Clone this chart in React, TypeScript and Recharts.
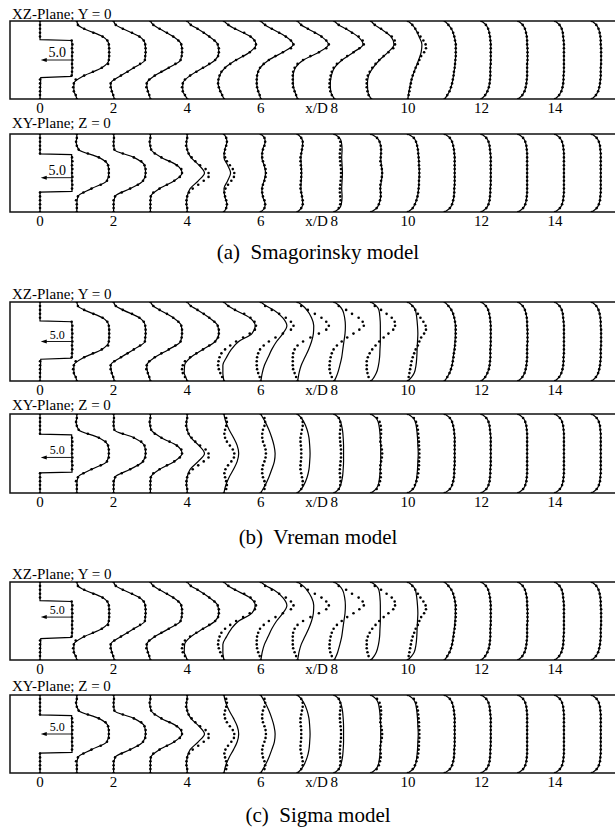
import React from "react";
import { ScatterChart, Scatter, XAxis, YAxis, ReferenceArea, ReferenceLine } from "recharts";

const SERIF = '"Liberation Serif", "Times New Roman", serif';

// x/D tick labels under each frame
const X_TICKS = [0, 2, 4, 6, 8, 10, 12, 14];
const X_DOMAIN: [number, number] = [-0.816, 15.9];

// lateral positions (frame spans -1..1) where profiles are sampled
const R_DOTS = [1, 0.9, 0.8, 0.7, 0.6, 0.5, 0.4, 0.3, 0.2, 0.1, 0, -0.1, -0.2, -0.3, -0.4, -0.5, -0.6, -0.7, -0.8, -0.9, -1];
const R_LINES = [1, 0.9, 0.8, 0.6, 0.4, 0.2, 0, -0.2, -0.4, -0.6, -0.8, -0.9, -1];

// jet exit (x/D = 0) computed profiles, top-hat
const EXIT_XZ_R = [1, 0.52, 0.5, 0.4, -0.38, -0.42, -0.45, -1];
const EXIT_XZ_U = [0, 0, 0.86, 0.87, 0.87, 0.85, 0.02, 0];
const EXIT_XY_R = [1, 0.49, 0.47, -0.47, -0.49, -1];
const EXIT_XY_U = [0, 0, 0.86, 0.87, 0, 0];

// experiment, XZ plane, stations 0..15 (offset from station, in x/D units)
const EXP_XZ = [
  [0, 0, 0, 0, 0, 0.86, 0.88, 0.87, 0.88, 0.87, 0.88, 0.87, 0.88, 0.87, 0.86, 0, 0, 0, 0, 0, 0],
  [0, 0.03, 0.2, 0.45, 0.7, 0.83, 0.87, 0.88, 0.88, 0.88, 0.87, 0.85, 0.68, 0.44, 0.2, -0.03, -0.08, -0.1, -0.08, -0.03, 0],
  [0, 0.06, 0.25, 0.5, 0.7, 0.82, 0.86, 0.87, 0.87, 0.86, 0.85, 0.72, 0.55, 0.38, 0.2, 0.02, -0.08, -0.08, -0.05, -0.01, 0.02],
  [0, 0.08, 0.25, 0.45, 0.62, 0.76, 0.84, 0.86, 0.86, 0.85, 0.82, 0.68, 0.5, 0.3, 0.12, -0.03, -0.1, -0.11, -0.07, -0.03, 0],
  [0, 0.1, 0.28, 0.45, 0.6, 0.74, 0.83, 0.86, 0.86, 0.84, 0.76, 0.6, 0.43, 0.25, 0.08, -0.06, -0.12, -0.14, -0.12, -0.06, 0],
  [0, 0.12, 0.3, 0.55, 0.72, 0.83, 0.87, 0.84, 0.7, 0.52, 0.33, 0.17, 0.03, -0.07, -0.12, -0.15, -0.16, -0.14, -0.1, -0.05, 0],
  [0, 0.12, 0.3, 0.5, 0.68, 0.82, 0.89, 0.82, 0.6, 0.4, 0.22, 0.08, -0.02, -0.07, -0.1, -0.11, -0.11, -0.1, -0.07, -0.03, 0],
  [0, 0.1, 0.28, 0.47, 0.65, 0.78, 0.85, 0.78, 0.58, 0.35, 0.15, 0, -0.08, -0.12, -0.13, -0.13, -0.13, -0.12, -0.08, -0.04, 0],
  [0, 0.12, 0.32, 0.48, 0.66, 0.77, 0.8, 0.68, 0.52, 0.35, 0.2, 0.07, -0.02, -0.07, -0.1, -0.12, -0.13, -0.13, -0.11, -0.07, 0],
  [0, 0.1, 0.27, 0.42, 0.56, 0.64, 0.65, 0.6, 0.47, 0.34, 0.22, 0.12, 0.03, -0.04, -0.09, -0.12, -0.12, -0.12, -0.1, -0.07, 0],
  [0, 0.12, 0.2, 0.27, 0.34, 0.42, 0.48, 0.49, 0.44, 0.36, 0.31, 0.27, 0.21, 0.17, 0.13, 0.1, 0.08, 0.06, 0.04, 0.02, 0],
  [0, 0.1, 0.18, 0.23, 0.26, 0.28, 0.3, 0.3, 0.3, 0.3, 0.29, 0.28, 0.27, 0.25, 0.24, 0.22, 0.2, 0.17, 0.13, 0.07, 0],
  [0, 0.12, 0.18, 0.21, 0.23, 0.24, 0.25, 0.25, 0.25, 0.25, 0.25, 0.25, 0.24, 0.24, 0.24, 0.23, 0.22, 0.2, 0.16, 0.1, 0],
  [0, 0.12, 0.18, 0.21, 0.23, 0.24, 0.24, 0.25, 0.25, 0.25, 0.25, 0.24, 0.24, 0.24, 0.24, 0.23, 0.22, 0.2, 0.17, 0.11, 0],
  [0, 0.12, 0.18, 0.21, 0.22, 0.23, 0.24, 0.24, 0.24, 0.24, 0.24, 0.24, 0.24, 0.24, 0.23, 0.23, 0.22, 0.2, 0.17, 0.11, 0],
  [0, 0.12, 0.18, 0.21, 0.23, 0.24, 0.24, 0.25, 0.25, 0.25, 0.25, 0.25, 0.24, 0.24, 0.24, 0.23, 0.22, 0.2, 0.17, 0.11, 0],
];

// experiment, XY plane, stations 0..15
const EXP_XY = [
  [0, 0, 0, 0, 0, 0, 0.87, 0.88, 0.87, 0.88, 0.87, 0.88, 0.87, 0.88, 0.87, 0, 0, 0, 0, 0, 0],
  [0, 0, -0.02, 0, 0.05, 0.3, 0.6, 0.78, 0.85, 0.87, 0.87, 0.87, 0.82, 0.65, 0.4, 0.18, 0.03, -0.02, 0, 0, 0],
  [0, 0.01, 0, 0, 0.02, 0.25, 0.55, 0.75, 0.84, 0.87, 0.87, 0.86, 0.8, 0.66, 0.45, 0.22, 0.04, 0, 0, 0, 0],
  [0, 0, -0.02, 0, 0.02, 0.12, 0.3, 0.52, 0.72, 0.84, 0.86, 0.8, 0.65, 0.45, 0.25, 0.08, 0.01, 0, 0, 0, 0],
  [0, 0, -0.02, -0.03, 0, 0.04, 0.12, 0.22, 0.35, 0.5, 0.58, 0.58, 0.45, 0.3, 0.15, 0.05, 0, -0.02, -0.02, 0, 0],
  [0, 0.06, 0.08, 0.06, 0.03, 0.01, 0.03, 0.08, 0.16, 0.24, 0.28, 0.27, 0.2, 0.11, 0.04, 0.01, 0.03, 0.06, 0.08, 0.06, 0],
  [0, 0.1, 0.12, 0.1, 0.06, 0.04, 0.04, 0.06, 0.1, 0.13, 0.14, 0.13, 0.1, 0.06, 0.04, 0.04, 0.06, 0.1, 0.12, 0.1, 0],
  [0, 0.1, 0.14, 0.14, 0.12, 0.1, 0.08, 0.08, 0.09, 0.1, 0.1, 0.1, 0.09, 0.08, 0.08, 0.1, 0.12, 0.14, 0.14, 0.1, 0],
  [0, 0.12, 0.16, 0.17, 0.16, 0.15, 0.15, 0.16, 0.17, 0.18, 0.18, 0.18, 0.17, 0.16, 0.15, 0.15, 0.16, 0.17, 0.16, 0.12, 0],
  [0, 0.16, 0.23, 0.26, 0.27, 0.27, 0.26, 0.25, 0.27, 0.29, 0.3, 0.29, 0.27, 0.25, 0.25, 0.26, 0.26, 0.24, 0.21, 0.15, 0],
  [0, 0.16, 0.22, 0.25, 0.27, 0.28, 0.29, 0.3, 0.3, 0.31, 0.31, 0.31, 0.3, 0.3, 0.29, 0.28, 0.26, 0.23, 0.19, 0.13, 0],
  [0, 0.14, 0.2, 0.23, 0.25, 0.26, 0.27, 0.27, 0.27, 0.27, 0.27, 0.27, 0.27, 0.27, 0.26, 0.26, 0.25, 0.23, 0.2, 0.14, 0],
  [0, 0.13, 0.19, 0.22, 0.23, 0.24, 0.25, 0.25, 0.25, 0.25, 0.25, 0.25, 0.25, 0.25, 0.24, 0.24, 0.23, 0.22, 0.19, 0.13, 0],
  [0, 0.13, 0.19, 0.22, 0.23, 0.24, 0.24, 0.24, 0.24, 0.24, 0.24, 0.24, 0.24, 0.24, 0.24, 0.24, 0.23, 0.22, 0.19, 0.13, 0],
  [0, 0.13, 0.19, 0.22, 0.23, 0.24, 0.24, 0.24, 0.24, 0.24, 0.24, 0.24, 0.24, 0.24, 0.24, 0.24, 0.23, 0.22, 0.19, 0.13, 0],
  [0, 0.13, 0.19, 0.22, 0.23, 0.24, 0.24, 0.24, 0.24, 0.24, 0.24, 0.24, 0.24, 0.24, 0.24, 0.24, 0.23, 0.22, 0.19, 0.13, 0],
];

// LES, stations 1..15, sampled at R_LINES
const SMAG_XZ = [
  [0, 0.03, 0.2, 0.7, 0.87, 0.88, 0.87, 0.68, 0.2, -0.08, -0.08, -0.03, 0],
  [0, 0.06, 0.25, 0.7, 0.86, 0.87, 0.85, 0.55, 0.2, -0.08, -0.05, -0.01, 0.02],
  [0, 0.08, 0.25, 0.62, 0.84, 0.86, 0.82, 0.5, 0.12, -0.1, -0.07, -0.03, 0],
  [0, 0.1, 0.28, 0.6, 0.83, 0.86, 0.76, 0.43, 0.08, -0.12, -0.12, -0.06, 0],
  [0, 0.12, 0.3, 0.72, 0.87, 0.7, 0.33, 0.03, -0.12, -0.16, -0.1, -0.05, 0],
  [0, 0.12, 0.3, 0.68, 0.88, 0.6, 0.22, -0.02, -0.1, -0.11, -0.07, -0.03, 0],
  [0, 0.1, 0.28, 0.65, 0.84, 0.58, 0.16, -0.06, -0.12, -0.12, -0.08, -0.04, 0],
  [0, 0.12, 0.31, 0.64, 0.78, 0.52, 0.21, 0, -0.08, -0.11, -0.1, -0.06, 0],
  [0, 0.1, 0.26, 0.54, 0.62, 0.46, 0.23, 0.05, -0.07, -0.1, -0.09, -0.06, 0],
  [0, 0.12, 0.2, 0.3, 0.38, 0.36, 0.29, 0.21, 0.13, 0.07, 0.03, 0.01, 0],
  [0, 0.1, 0.18, 0.26, 0.3, 0.3, 0.29, 0.27, 0.24, 0.2, 0.13, 0.07, 0],
  [0, 0.12, 0.18, 0.23, 0.25, 0.25, 0.25, 0.24, 0.24, 0.22, 0.16, 0.1, 0],
  [0, 0.12, 0.18, 0.23, 0.24, 0.25, 0.25, 0.24, 0.24, 0.22, 0.17, 0.11, 0],
  [0, 0.12, 0.18, 0.22, 0.24, 0.24, 0.24, 0.24, 0.23, 0.22, 0.17, 0.11, 0],
  [0, 0.12, 0.18, 0.23, 0.24, 0.25, 0.25, 0.24, 0.24, 0.22, 0.17, 0.11, 0],
];

const SMAG_XY = [
  [0, 0, -0.02, 0.05, 0.6, 0.85, 0.87, 0.82, 0.4, 0.03, 0, 0, 0],
  [0, 0.01, 0, 0.02, 0.55, 0.84, 0.87, 0.8, 0.45, 0.04, 0, 0, 0],
  [0, 0, -0.02, 0.02, 0.3, 0.72, 0.86, 0.65, 0.25, 0.01, 0, 0, 0],
  [0, 0, -0.02, 0, 0.1, 0.32, 0.47, 0.3, 0.08, 0, -0.02, 0, 0],
  [0, 0.06, 0.08, 0.02, 0, 0.1, 0.18, 0.1, 0, 0.02, 0.08, 0.06, 0],
  [0, 0.1, 0.12, 0.05, 0.03, 0.09, 0.13, 0.09, 0.03, 0.05, 0.12, 0.1, 0],
  [0, 0.1, 0.14, 0.12, 0.09, 0.1, 0.11, 0.1, 0.09, 0.12, 0.14, 0.1, 0],
  [0, 0.14, 0.19, 0.21, 0.2, 0.21, 0.22, 0.21, 0.2, 0.21, 0.19, 0.14, 0],
  [0, 0.16, 0.23, 0.27, 0.26, 0.28, 0.3, 0.28, 0.25, 0.26, 0.21, 0.15, 0],
  [0, 0.16, 0.22, 0.27, 0.29, 0.3, 0.31, 0.3, 0.29, 0.26, 0.19, 0.13, 0],
  [0, 0.14, 0.2, 0.25, 0.27, 0.27, 0.27, 0.27, 0.26, 0.25, 0.2, 0.14, 0],
  [0, 0.13, 0.19, 0.23, 0.25, 0.25, 0.25, 0.25, 0.24, 0.23, 0.19, 0.13, 0],
  [0, 0.13, 0.19, 0.23, 0.24, 0.24, 0.24, 0.24, 0.24, 0.23, 0.19, 0.13, 0],
  [0, 0.13, 0.19, 0.23, 0.24, 0.24, 0.24, 0.24, 0.24, 0.23, 0.19, 0.13, 0],
  [0, 0.13, 0.19, 0.23, 0.24, 0.24, 0.24, 0.24, 0.24, 0.23, 0.19, 0.13, 0],
];

const VREMAN_XZ = [
  [0, 0.03, 0.2, 0.7, 0.87, 0.88, 0.87, 0.68, 0.2, -0.08, -0.08, -0.03, 0],
  [0, 0.06, 0.25, 0.7, 0.86, 0.87, 0.85, 0.55, 0.2, -0.08, -0.05, -0.01, 0.02],
  [0, 0.08, 0.25, 0.62, 0.84, 0.86, 0.82, 0.5, 0.12, -0.1, -0.07, -0.03, 0],
  [0, 0.1, 0.28, 0.6, 0.83, 0.86, 0.76, 0.43, 0.1, -0.07, -0.08, -0.04, 0],
  [0, 0.12, 0.3, 0.7, 0.85, 0.76, 0.4, 0.2, 0.07, -0.03, -0.03, -0.02, 0],
  [0, 0.15, 0.35, 0.6, 0.71, 0.6, 0.43, 0.3, 0.2, 0.1, 0.04, 0.02, 0],
  [0, 0.15, 0.25, 0.38, 0.44, 0.43, 0.38, 0.3, 0.2, 0.1, 0.04, 0.02, 0],
  [0, 0.14, 0.22, 0.28, 0.3, 0.29, 0.26, 0.23, 0.2, 0.15, 0.09, 0.05, 0],
  [0, 0.14, 0.21, 0.24, 0.25, 0.25, 0.25, 0.24, 0.23, 0.2, 0.14, 0.08, 0],
  [0, 0.13, 0.2, 0.24, 0.26, 0.27, 0.26, 0.25, 0.24, 0.22, 0.17, 0.1, 0],
  [0, 0.1, 0.18, 0.26, 0.29, 0.29, 0.28, 0.26, 0.23, 0.2, 0.13, 0.07, 0],
  [0, 0.12, 0.18, 0.23, 0.25, 0.25, 0.25, 0.24, 0.24, 0.22, 0.16, 0.1, 0],
  [0, 0.12, 0.18, 0.23, 0.24, 0.25, 0.25, 0.24, 0.24, 0.22, 0.17, 0.11, 0],
  [0, 0.12, 0.18, 0.22, 0.24, 0.24, 0.24, 0.24, 0.23, 0.22, 0.17, 0.11, 0],
  [0, 0.12, 0.18, 0.23, 0.24, 0.25, 0.25, 0.24, 0.24, 0.22, 0.17, 0.11, 0],
];

const VREMAN_XY = [
  [0, 0, -0.02, 0.05, 0.6, 0.85, 0.87, 0.82, 0.4, 0.03, 0, 0, 0],
  [0, 0.01, 0, 0.02, 0.55, 0.84, 0.87, 0.8, 0.45, 0.04, 0, 0, 0],
  [0, 0, -0.02, 0.02, 0.3, 0.72, 0.86, 0.65, 0.25, 0.01, 0, 0, 0],
  [0, 0, -0.02, 0, 0.1, 0.32, 0.47, 0.3, 0.08, 0, -0.02, 0, 0],
  [0, 0.02, 0.05, 0.14, 0.26, 0.36, 0.4, 0.36, 0.26, 0.14, 0.05, 0.02, 0],
  [0, 0.06, 0.12, 0.22, 0.3, 0.36, 0.39, 0.37, 0.3, 0.22, 0.12, 0.06, 0],
  [0, 0.1, 0.17, 0.26, 0.31, 0.33, 0.34, 0.33, 0.31, 0.26, 0.17, 0.1, 0],
  [0, 0.12, 0.17, 0.22, 0.24, 0.25, 0.25, 0.25, 0.24, 0.22, 0.17, 0.12, 0],
  [0, 0.13, 0.19, 0.23, 0.25, 0.26, 0.26, 0.26, 0.25, 0.23, 0.19, 0.13, 0],
  [0, 0.14, 0.2, 0.24, 0.26, 0.27, 0.28, 0.27, 0.26, 0.24, 0.2, 0.14, 0],
  [0, 0.14, 0.2, 0.25, 0.27, 0.27, 0.27, 0.27, 0.26, 0.25, 0.2, 0.14, 0],
  [0, 0.13, 0.19, 0.23, 0.25, 0.25, 0.25, 0.25, 0.24, 0.23, 0.19, 0.13, 0],
  [0, 0.13, 0.19, 0.23, 0.24, 0.24, 0.24, 0.24, 0.24, 0.23, 0.19, 0.13, 0],
  [0, 0.13, 0.19, 0.23, 0.24, 0.24, 0.24, 0.24, 0.24, 0.23, 0.19, 0.13, 0],
  [0, 0.13, 0.19, 0.23, 0.24, 0.24, 0.24, 0.24, 0.24, 0.23, 0.19, 0.13, 0],
];

// the sigma-model curves read the same as the Vreman ones
const SIGMA_XZ = VREMAN_XZ;
const SIGMA_XY = VREMAN_XY;

const PANELS = [
  { title: "XZ-Plane; Y = 0", titleY: 19, top: 21, h: 78, les: SMAG_XZ, exp: EXP_XZ, exitR: EXIT_XZ_R, exitU: EXIT_XZ_U, arrowR: 0, labelSize: 14 },
  { title: "XY-Plane; Z = 0", titleY: 128, top: 134, h: 78, les: SMAG_XY, exp: EXP_XY, exitR: EXIT_XY_R, exitU: EXIT_XY_U, arrowR: -0.12, labelSize: 14 },
  { title: "XZ-Plane; Y = 0", titleY: 299, top: 302, h: 79, les: VREMAN_XZ, exp: EXP_XZ, exitR: EXIT_XZ_R, exitU: EXIT_XZ_U, arrowR: 0, labelSize: 12 },
  { title: "XY-Plane; Z = 0", titleY: 410, top: 414, h: 79, les: VREMAN_XY, exp: EXP_XY, exitR: EXIT_XY_R, exitU: EXIT_XY_U, arrowR: -0.1, labelSize: 12 },
  { title: "XZ-Plane; Y = 0", titleY: 579, top: 582, h: 78, les: SIGMA_XZ, exp: EXP_XZ, exitR: EXIT_XZ_R, exitU: EXIT_XZ_U, arrowR: 0.1, labelSize: 12 },
  { title: "XY-Plane; Z = 0", titleY: 691, top: 695, h: 78, les: SIGMA_XY, exp: EXP_XY, exitR: EXIT_XY_R, exitU: EXIT_XY_U, arrowR: 0, labelSize: 12 },
];

const CAPTIONS = [
  { text: "(a)\u00a0 Smagorinsky model", y: 259 },
  { text: "(b)\u00a0 Vreman model", y: 544 },
  { text: "(c)\u00a0 Sigma model", y: 822 },
];

const XTick = (props: any) => {
  const { x, y, payload } = props;
  return (
    <g>
      {payload.value === 8 && (
        <text x={x - 6.5} y={y + 14} textAnchor="end" fontSize={15} fontFamily={SERIF} fill="#000">
          x/D
        </text>
      )}
      <text x={x} y={y + 14} textAnchor="middle" fontSize={15} fontFamily={SERIF} fill="#000">
        {payload.value}
      </text>
    </g>
  );
};

const Dot = (p: any) => <circle cx={p.cx} cy={p.cy} r={1.3} fill="#000" />;
const NoDot = () => <g />;

const arrowShape = (labelSize: number) => (p: any) => {
  const left = Math.min(p.x1, p.x2);
  const right = Math.max(p.x1, p.x2);
  const y = p.y1;
  return (
    <g>
      <line x1={left + 4} y1={y} x2={right} y2={y} stroke="#000" strokeWidth={0.9} />
      <path d={`M${left},${y} L${left + 6},${y - 2} L${left + 6},${y + 2} Z`} fill="#000" />
      <text x={(left + right) / 2 + 1} y={y - 3} textAnchor="middle" fontSize={labelSize} fontFamily={SERIF} fill="#000">
        5.0
      </text>
    </g>
  );
};

function Panel({ cfg }: { cfg: any }) {
  const exitPts = cfg.exitR.map((r: number, k: number) => ({ x: cfg.exitU[k], y: r }));
  const dots = cfg.exp.flatMap((u: number[], s: number) => R_DOTS.map((r, k) => ({ x: s + u[k], y: r })));
  return (
    <div style={{ position: "absolute", left: 0, top: cfg.top - 2 }}>
      <ScatterChart width={625} height={cfg.h + 26} margin={{ top: 2, right: 0, bottom: 0, left: 10 }}>
        <XAxis
          type="number"
          dataKey="x"
          domain={X_DOMAIN}
          ticks={X_TICKS}
          interval={0}
          height={24}
          axisLine={false}
          tickLine={false}
          tickSize={0}
          tickMargin={0}
          tick={<XTick />}
          allowDataOverflow
        />
        <YAxis type="number" dataKey="y" domain={[-1, 1]} hide allowDataOverflow />
        <ReferenceArea x1={X_DOMAIN[0]} x2={X_DOMAIN[1]} y1={-1} y2={1} fill="none" fillOpacity={0} stroke="#111" strokeWidth={1.5} />
        <Scatter
          data={exitPts}
          line={{ stroke: "#000", strokeWidth: 1.2 }}
          lineJointType="linear"
          shape={NoDot}
          isAnimationActive={false}
        />
        {cfg.les.map((u: number[], i: number) => (
          <Scatter
            key={i}
            data={R_LINES.map((r, k) => ({ x: i + 1 + u[k], y: r }))}
            line={{ stroke: "#000", strokeWidth: 1.2 }}
            lineJointType="monotoneY"
            shape={NoDot}
            isAnimationActive={false}
          />
        ))}
        <Scatter data={dots} shape={Dot} isAnimationActive={false} />
        <ReferenceLine
          segment={[
            { x: 0.86, y: cfg.arrowR },
            { x: 0.02, y: cfg.arrowR },
          ]}
          shape={arrowShape(cfg.labelSize)}
        />
      </ScatterChart>
    </div>
  );
}

export default function App() {
  return (
    <div style={{ position: "absolute", left: 0, top: 0, width: 615, height: 830, overflow: "hidden", background: "#fff" }}>
      <svg width={615} height={830} style={{ position: "absolute", left: 0, top: 0 }}>
        {PANELS.map((p, i) => (
          <text key={i} x={12} y={p.titleY} fontSize={15} fontFamily={SERIF} fill="#000">
            {p.title}
          </text>
        ))}
        {CAPTIONS.map((c, i) => (
          <text key={i} x={318} y={c.y} textAnchor="middle" fontSize={21} fontFamily={SERIF} fill="#000">
            {c.text}
          </text>
        ))}
      </svg>
      {PANELS.map((p, i) => (
        <Panel key={i} cfg={p} />
      ))}
    </div>
  );
}
